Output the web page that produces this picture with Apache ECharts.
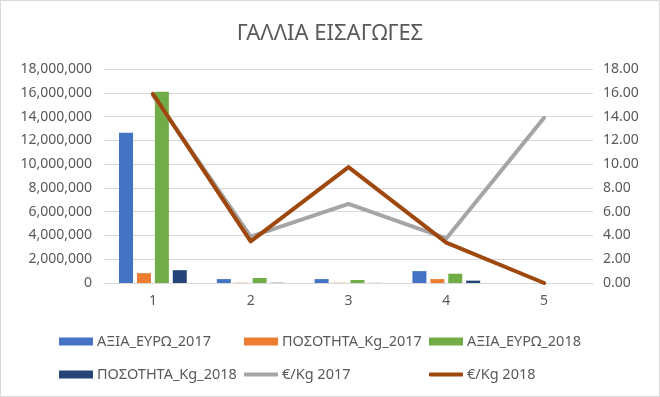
<!DOCTYPE html>
<html>
<head>
<meta charset="utf-8">
<script src="https://cdn.jsdelivr.net/npm/echarts@6/dist/echarts.min.js"></script>
<style>
  html, body { margin: 0; padding: 0; background: #fff; }
  #MyChart { width: 660px; height: 397px; box-sizing: border-box; border: 1px solid #d9d9d9; }
</style>
</head>
<body>
<div id="MyChart"></div>
<script>
// κατηγορίες
const categories = ['1', '2', '3', '4', '5'];
// αξίες σε ευρώ / ποσότητες σε kg
const axiaEuro2017 = [12640000, 330000, 330000, 1000000, 0];
const posotitaKg2017 = [830000, 20000, 20000, 330000, 0];
const axiaEuro2018 = [16080000, 420000, 250000, 780000, 0];
const posotitaKg2018 = [1080000, 20000, 10000, 200000, 0];
// €/Kg
const euroKg2017 = [15.8, 3.9, 6.65, 3.75, 13.9];
const euroKg2018 = [15.9, 3.5, 9.75, 3.4, 0];

const seriesNames = ['ΑΞΙΑ_ΕΥΡΩ_2017', 'ΠΟΣΟΤΗΤΑ_Kg_2017', 'ΑΞΙΑ_ΕΥΡΩ_2018',
  'ΠΟΣΟΤΗΤΑ_Kg_2018', '€/Kg 2017', '€/Kg 2018'];
const colors = ['#4472C4', '#ED7D31', '#70AD47', '#264478', '#A5A5A5', '#9E480E'];

const font = 'Noto Sans';
const textColor = '#595959';

let myChart = echarts.init(document.getElementById('MyChart'));

// legend θέσεις: 3 στήλες, 2 γραμμές
const legendPos = [[58, 333], [243, 333], [428, 333], [58, 366], [243, 366], [428, 366]];
let legends = [];
for (let i = 0; i < seriesNames.length; i++) {
  let isLine = i >= 4;
  legends.push({
    left: legendPos[i][0],
    top: legendPos[i][1],
    data: [{ name: seriesNames[i], icon: isLine ? 'roundRect' : 'rect' }],
    itemWidth: 34,
    itemHeight: isLine ? 4 : 8,
    itemGap: 0,
    padding: 0,
    selectedMode: false,
    textStyle: { color: textColor, fontSize: 14.5, fontFamily: font, padding: [0, 0, 0, -1] }
  });
}

function barSeries(idx, data) {
  return {
    name: seriesNames[idx],
    type: 'bar',
    data: data,
    barWidth: 14,
    barGap: '28%',
    itemStyle: { color: colors[idx] }
  };
}
function lineSeries(idx, data) {
  return {
    name: seriesNames[idx],
    type: 'line',
    yAxisIndex: 1,
    data: data,
    showSymbol: false,
    symbol: 'none',
    lineStyle: { width: 4, color: colors[idx], cap: 'round', join: 'round' },
    itemStyle: { color: colors[idx] }
  };
}

let option = {
  animation: false,
  title: {
    text: 'ΓΑΛΛΙΑ ΕΙΣΑΓΩΓΕΣ',
    left: 'center',
    top: 17,
    textStyle: { color: textColor, fontSize: 22, fontWeight: 'normal', fontFamily: font }
  },
  legend: legends,
  grid: { left: 103, right: 66, top: 68, bottom: 113 },
  xAxis: {
    type: 'category',
    data: categories,
    axisLine: { lineStyle: { color: '#d9d9d9' } },
    axisTick: { show: false },
    axisLabel: { color: textColor, fontSize: 14, fontFamily: font, margin: 11 }
  },
  yAxis: [
    {
      type: 'value',
      min: 0, max: 18000000, interval: 2000000,
      axisLine: { show: false },
      axisTick: { show: false },
      splitLine: { lineStyle: { color: '#d9d9d9' } },
      axisLabel: {
        color: textColor, fontSize: 14, fontFamily: font, margin: 12,
        formatter: v => v.toLocaleString('en-US')
      }
    },
    {
      type: 'value',
      min: 0, max: 18, interval: 2,
      axisLine: { show: false },
      axisTick: { show: false },
      splitLine: { show: false },
      axisLabel: {
        color: textColor, fontSize: 14, fontFamily: font, margin: 10,
        formatter: v => v.toFixed(2)
      }
    }
  ],
  series: [
    barSeries(0, axiaEuro2017),
    barSeries(1, posotitaKg2017),
    barSeries(2, axiaEuro2018),
    barSeries(3, posotitaKg2018),
    lineSeries(4, euroKg2017),
    lineSeries(5, euroKg2018)
  ]
};
myChart.setOption(option);
</script>
</body>
</html>
